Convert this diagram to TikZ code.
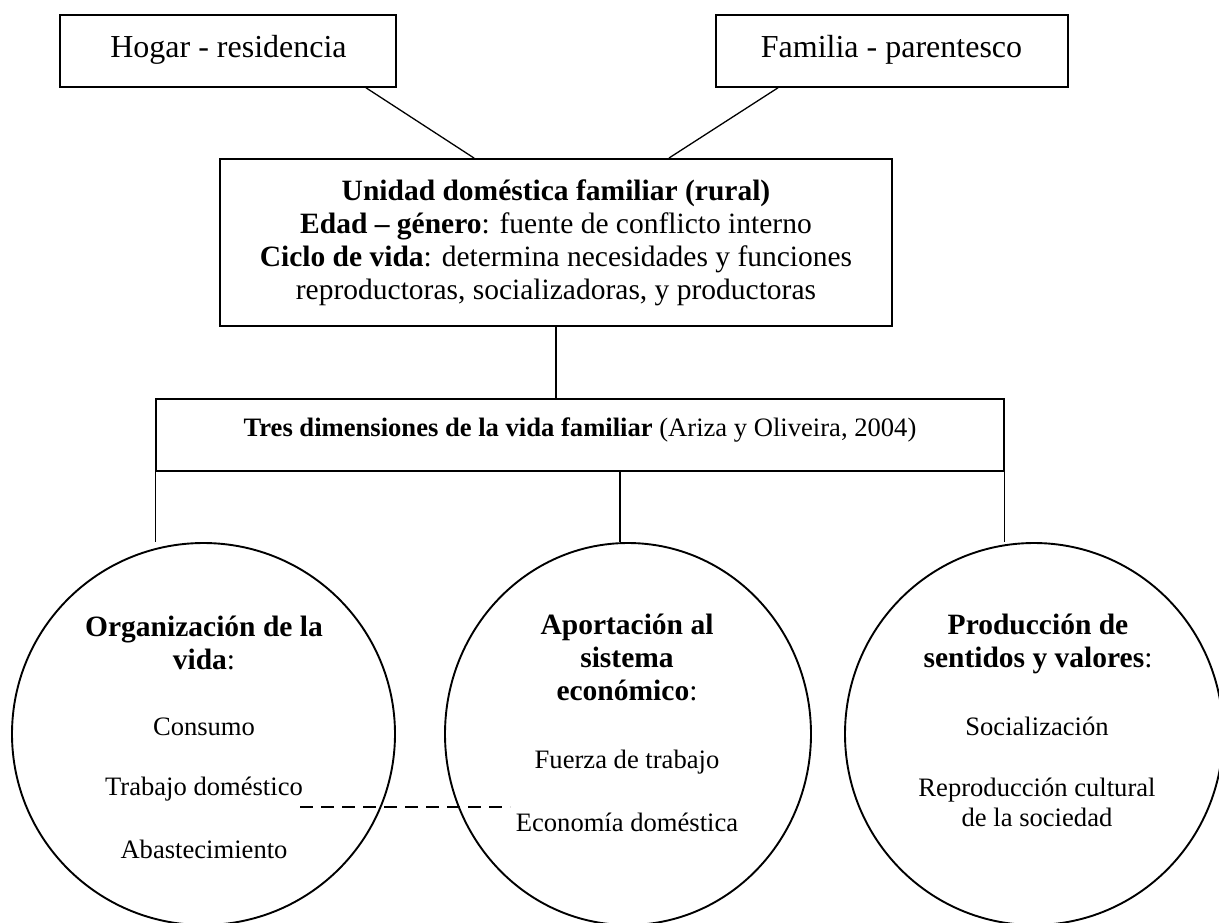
\documentclass[tikz,border=0pt]{standalone}
\usepackage{fontspec}
\setmainfont{Liberation Serif}
\usetikzlibrary{shapes.geometric}
\begin{document}
\begin{tikzpicture}[x=1pt,y=-1pt,
  box/.style={draw,line width=1.9pt,inner sep=0pt},
  conn/.style={line width=1.3pt},
  circ/.style={draw,ellipse,line width=1.9pt,inner sep=0pt},
  txt/.style={inner sep=0pt,align=center,anchor=base},
  fbig/.style={font=\fontsize{32}{34}\selectfont},
  fmain/.style={font=\fontsize{29.5}{33}\selectfont},
  fbody/.style={font=\fontsize{26.6}{30}\selectfont},
  dashline/.style={line width=1.8pt,dash pattern=on 13pt off 8pt},
]
\useasboundingbox (0,0) rectangle (1219,922);

% top boxes
\node[box,minimum width=336pt,minimum height=72pt] (hog) at (228,50.8) {};
\node[txt,fbig] (hogt) at (228.5,57) {Hogar - residencia};
\node[box,minimum width=352pt,minimum height=72pt] (fam) at (892,50.8) {};
\node[txt,fbig] (famt) at (891.5,57) {Familia - parentesco};

% central box
\node[box,minimum width=672pt,minimum height=167pt] (cen) at (556,242.5) {};
\node[txt,fmain] (cent) at (556,299) {\textbf{Unidad doméstica familiar (rural)}\\
  \textbf{Edad – género}: fuente de conflicto interno\\
  \textbf{Ciclo de vida}: determina necesidades y funciones\\
  reproductoras, socializadoras, y productoras};

% three dimensions box
\node[box,minimum width=848pt,minimum height=72pt] (tres) at (580,435) {};
\node[txt,fbody] (trest) at (580,436) {\textbf{Tres dimensiones de la vida familiar} (Ariza y Oliveira, 2004)};

% circles
\node[circ,minimum width=383pt,minimum height=382pt] (c1) at (203.5,734) {};
\node[circ,minimum width=366pt,minimum height=382pt] (c2) at (628,734) {};
\node[circ,minimum width=378pt,minimum height=382pt] (c3) at (1034,734) {};

% connectors
\draw[conn] ([xshift=-31pt]hog.south east) -- ([xshift=255pt]cen.north west);
\draw[conn] ([xshift=63pt]fam.south west) -- ([xshift=-224pt]cen.north east);
\draw[conn] (cen.south) -- (cen.south |- tres.north);
\draw[conn] ([xshift=0.5pt]tres.south west) -- ([xshift=0.5pt]tres.south west |- c1.north);
\draw[conn] ([xshift=40pt]tres.south) -- ([xshift=40pt]tres.south |- c2.north);
\draw[conn] ([xshift=-0.5pt]tres.south east) -- ([xshift=-0.5pt]tres.south east |- c3.north);

% circle texts
\node[txt,fmain] (t1a) at (204,669) {\textbf{Organización de la}\\\textbf{vida}:};
\node[txt,fbody] (t1b) at (204,735) {Consumo};
\node[txt,fbody] (t1c) at (204,795) {Trabajo doméstico};
\node[txt,fbody] (t1d) at (204,858) {Abastecimiento};

\node[txt,fmain] (t2a) at (627,700) {\textbf{Aportación al}\\\textbf{sistema}\\\textbf{económico}:};
\node[txt,fbody] (t2b) at (627,768) {Fuerza de trabajo};
\node[txt,fbody] (t2c) at (627,831) {Economía doméstica};

\node[txt,fmain] (t3a) at (1038,667) {\textbf{Producción de}\\\textbf{sentidos y valores}:};
\node[txt,fbody] (t3b) at (1037,735) {Socialización};
\node[txt,fbody] (t3c) at (1037,826) {Reproducción cultural\\de la sociedad};

% dashed link
\coordinate (d1) at (300,807);
\coordinate (d2) at (510,807);
\draw[dashline] (d1) -- (d2);
\end{tikzpicture}
\end{document}
